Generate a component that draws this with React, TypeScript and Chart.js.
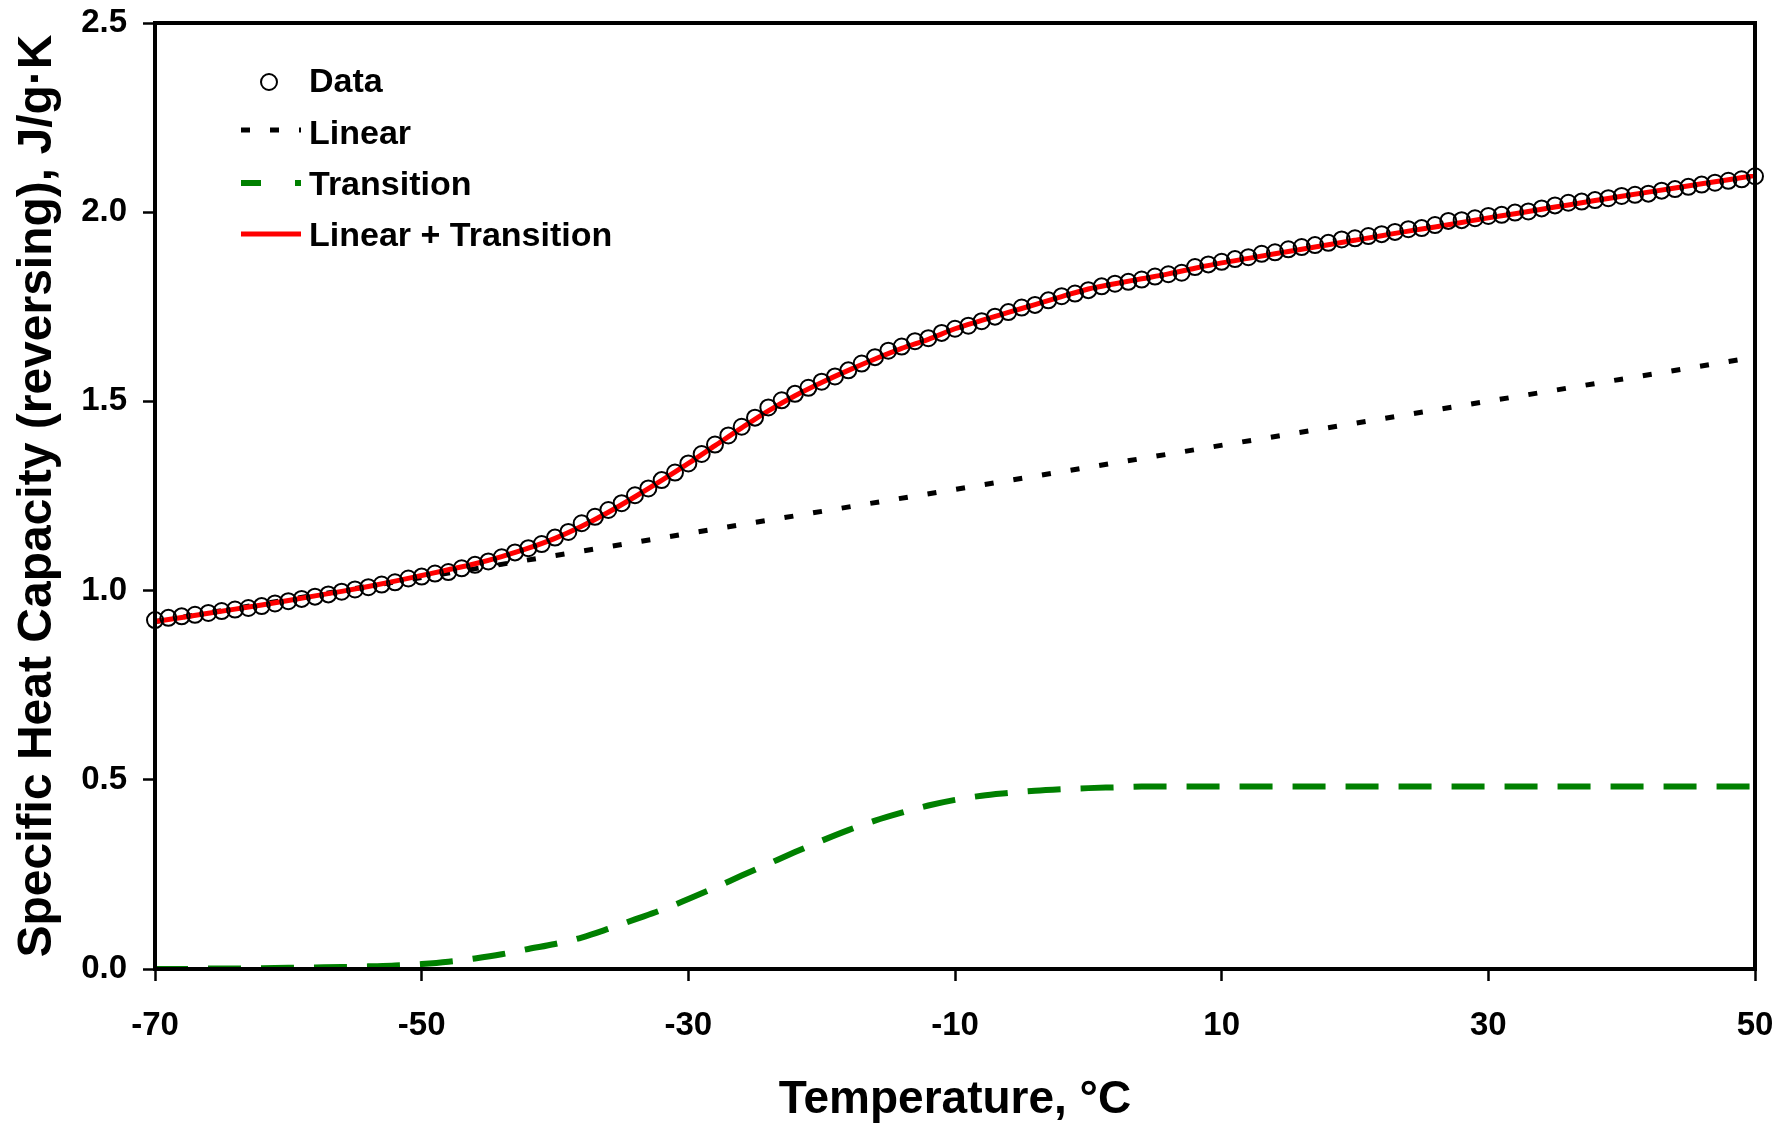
import React, { useEffect, useRef } from 'react';
import { Chart, registerables } from 'chart.js';

Chart.register(...registerables);

const FONT = '"Liberation Sans", Arial, Helvetica, sans-serif';

// ---- Data ----
const dataTemps = [
  -70, -69, -68, -67, -66, -65, -64, -63, -62, -61,
  -60, -59, -58, -57, -56, -55, -54, -53, -52, -51,
  -50, -49, -48, -47, -46, -45, -44, -43, -42, -41,
  -40, -39, -38, -37, -36, -35, -34, -33, -32, -31,
  -30, -29, -28, -27, -26, -25, -24, -23, -22, -21,
  -20, -19, -18, -17, -16, -15, -14, -13, -12, -11,
  -10, -9, -8, -7, -6, -5, -4, -3, -2, -1,
  0, 1, 2, 3, 4, 5, 6, 7, 8, 9,
  10, 11, 12, 13, 14, 15, 16, 17, 18, 19,
  20, 21, 22, 23, 24, 25, 26, 27, 28, 29,
  30, 31, 32, 33, 34, 35, 36, 37, 38, 39,
  40, 41, 42, 43, 44, 45, 46, 47, 48, 49, 50,
];
const dataCp = [
  0.922, 0.928, 0.932, 0.936, 0.941, 0.946, 0.950, 0.954, 0.959, 0.966,
  0.972, 0.978, 0.984, 0.990, 0.997, 1.003, 1.009, 1.016, 1.022, 1.032,
  1.037, 1.045, 1.049, 1.059, 1.068, 1.077, 1.088, 1.101, 1.112, 1.123,
  1.140, 1.155, 1.178, 1.195, 1.213, 1.231, 1.252, 1.270, 1.292, 1.312,
  1.336, 1.361, 1.386, 1.410, 1.433, 1.457, 1.484, 1.503, 1.520, 1.536,
  1.552, 1.566, 1.582, 1.600, 1.617, 1.634, 1.645, 1.659, 1.667, 1.681,
  1.692, 1.700, 1.712, 1.724, 1.736, 1.748, 1.755, 1.767, 1.778, 1.785,
  1.794, 1.804, 1.811, 1.816, 1.822, 1.830, 1.836, 1.840, 1.855, 1.862,
  1.869, 1.876, 1.881, 1.890, 1.894, 1.902, 1.908, 1.913, 1.919, 1.928,
  1.931, 1.937, 1.942, 1.948, 1.955, 1.958, 1.966, 1.977, 1.979, 1.984,
  1.990, 1.993, 1.999, 2.002, 2.010, 2.018, 2.025, 2.028, 2.032, 2.037,
  2.043, 2.046, 2.049, 2.057, 2.061, 2.067, 2.073, 2.078, 2.083, 2.087, 2.095,
];

const curveTemps = [
  -70, -68, -66, -64, -62, -60, -58, -56, -54, -52,
  -50, -48, -46, -44, -42, -40, -38, -36, -34, -32,
  -30, -28, -26, -24, -22, -20, -18, -16, -14, -12,
  -10, -8, -6, -4, -2, 0, 2, 4, 6, 8,
  10, 12, 14, 16, 18, 20, 22, 24, 26, 28,
  30, 32, 34, 36, 38, 40, 42, 44, 46, 48, 50,
];
const fitCp = [
  0.918, 0.929, 0.940, 0.951, 0.962, 0.974, 0.986, 0.998, 1.011, 1.025,
  1.040, 1.055, 1.071, 1.090, 1.112, 1.138, 1.170, 1.207, 1.248, 1.291,
  1.336, 1.383, 1.430, 1.475, 1.515, 1.550, 1.582, 1.612, 1.640, 1.664,
  1.692, 1.714, 1.735, 1.756, 1.777, 1.797, 1.811, 1.824, 1.837, 1.852,
  1.866, 1.878, 1.890, 1.902, 1.914, 1.926, 1.938, 1.950, 1.961, 1.973,
  1.985, 1.996, 2.008, 2.019, 2.031, 2.042, 2.053, 2.064, 2.075, 2.086, 2.097,
];
const transitionCp = [
  0.000, 0.000, 0.001, 0.001, 0.002, 0.003, 0.004, 0.005, 0.007, 0.009,
  0.013, 0.019, 0.028, 0.039, 0.053, 0.066, 0.083, 0.106, 0.131, 0.156,
  0.185, 0.215, 0.247, 0.278, 0.309, 0.339, 0.367, 0.392, 0.413, 0.432,
  0.447, 0.458, 0.465, 0.471, 0.475, 0.478, 0.480, 0.482, 0.482, 0.482,
  0.482, 0.482, 0.482, 0.482, 0.482, 0.482, 0.482, 0.482, 0.482, 0.482,
  0.482, 0.482, 0.482, 0.482, 0.482, 0.482, 0.482, 0.482, 0.482, 0.482, 0.482,
];
const linearTemps = [-70, 50];
const linearCp = [0.918, 1.617];

const xTickValues = [-70, -50, -30, -10, 10, 30, 50];
const yTickValues = [0, 0.5, 1.0, 1.5, 2.0, 2.5];

const seriesLabels = ['Data', 'Linear', 'Transition', 'Linear + Transition'];
const xTitle = 'Temperature, °C';
const yTitle = 'Specific Heat Capacity (reversing), J/g·K';

const GREEN = '#008000';
const RED = '#ff0000';

const toXY = (xs: number[], ys: number[]) => xs.map((x, i) => ({ x, y: ys[i] }));

const clearPadding = (s: any) => {
  s.paddingTop = 0;
  s.paddingBottom = 0;
  s.paddingLeft = 0;
  s.paddingRight = 0;
};

const framePlugin = {
  id: 'frame',
  afterDatasetsDraw(chart: any) {
    const { ctx, chartArea } = chart;
    ctx.save();
    ctx.strokeStyle = '#000';
    ctx.lineWidth = 4;
    ctx.strokeRect(chartArea.left, chartArea.top, chartArea.right - chartArea.left, chartArea.bottom - chartArea.top);
    ctx.restore();
  },
};

const legendPlugin = {
  id: 'insideLegend',
  afterDraw(chart: any) {
    const ctx = chart.ctx;
    const x0 = 241;
    const x1 = 301;
    const tx = 309;
    ctx.save();
    // Data marker
    ctx.strokeStyle = '#000';
    ctx.lineWidth = 2;
    ctx.beginPath();
    ctx.arc(269, 82, 8, 0, Math.PI * 2);
    ctx.stroke();
    // Linear
    ctx.lineWidth = 5;
    ctx.setLineDash([9, 20]);
    ctx.beginPath();
    ctx.moveTo(x0, 130);
    ctx.lineTo(x1, 130);
    ctx.stroke();
    // Transition
    ctx.strokeStyle = GREEN;
    ctx.lineWidth = 6;
    ctx.setLineDash([20, 34]);
    ctx.beginPath();
    ctx.moveTo(x0, 183);
    ctx.lineTo(x1, 183);
    ctx.stroke();
    // Linear + Transition
    ctx.strokeStyle = RED;
    ctx.lineWidth = 5;
    ctx.setLineDash([]);
    ctx.beginPath();
    ctx.moveTo(x0, 234);
    ctx.lineTo(x1, 234);
    ctx.stroke();
    // Labels
    ctx.fillStyle = '#000';
    ctx.font = `bold 34px ${FONT}`;
    ctx.textBaseline = 'middle';
    ctx.textAlign = 'left';
    const ys = [83, 135, 186, 237];
    seriesLabels.forEach((t, i) => ctx.fillText(t, tx, ys[i]));
    ctx.restore();
  },
};

export default function App() {
  const ref = useRef<HTMLCanvasElement>(null);

  useEffect(() => {
    document.body.style.margin = '0';
    const canvas = ref.current!;
    const chart = new Chart(canvas, {
      type: 'line',
      data: {
        datasets: [
          {
            label: seriesLabels[0],
            data: toXY(dataTemps, dataCp),
            showLine: false,
            pointRadius: 8,
            pointBorderWidth: 2,
            pointBorderColor: '#000',
            pointBackgroundColor: 'rgba(0,0,0,0)',
            pointStyle: 'circle',
            order: 0,
            clip: false,
          } as any,
          {
            label: seriesLabels[3],
            data: toXY(curveTemps, fitCp),
            borderColor: RED,
            borderWidth: 5,
            pointRadius: 0,
            cubicInterpolationMode: 'monotone',
            order: 1,
          },
          {
            label: seriesLabels[1],
            data: toXY(linearTemps, linearCp),
            borderColor: '#000',
            borderWidth: 5,
            borderDash: [9, 20],
            pointRadius: 0,
            order: 2,
          },
          {
            label: seriesLabels[2],
            data: toXY(curveTemps, transitionCp),
            borderColor: GREEN,
            borderWidth: 6,
            borderDash: [33, 20],
            pointRadius: 0,
            cubicInterpolationMode: 'monotone',
            order: 3,
          },
        ],
      },
      options: {
        responsive: false,
        animation: false,
        devicePixelRatio: 1,
        layout: { padding: { top: 23, right: 22, bottom: 0, left: 0 } },
        plugins: {
          legend: { display: false },
          tooltip: { enabled: false },
        },
        scales: {
          x: {
            type: 'linear',
            position: 'bottom',
            min: -70,
            max: 50,
            afterBuildTicks: (s: any) => {
              s.ticks = xTickValues.map((v) => ({ value: v }));
            },
            afterFit: (s: any) => {
              s.height = 155;
              clearPadding(s);
            },
            border: { display: false },
            grid: {
              display: true,
              drawOnChartArea: false,
              drawTicks: true,
              tickLength: 12,
              tickWidth: 2.5,
              tickColor: '#000',
            },
            ticks: {
              color: '#000',
              padding: 25,
              maxRotation: 0,
              autoSkip: false,
              font: { family: FONT, size: 33, weight: 'bold', lineHeight: 1.2 },
              callback: (v: any) => String(v),
            },
            title: {
              display: true,
              text: xTitle,
              color: '#000',
              padding: { top: 0, bottom: 0 },
              font: { family: FONT, size: 46, weight: 'bold', lineHeight: 1.05 },
            },
          },
          y: {
            type: 'linear',
            min: 0,
            max: 2.5,
            afterBuildTicks: (s: any) => {
              s.ticks = yTickValues.map((v) => ({ value: v }));
            },
            afterFit: (s: any) => {
              s.width = 155;
              clearPadding(s);
            },
            border: { display: false },
            grid: {
              display: true,
              drawOnChartArea: false,
              drawTicks: true,
              tickLength: 12,
              tickWidth: 2.5,
              tickColor: '#000',
            },
            ticks: {
              color: '#000',
              padding: 16,
              autoSkip: false,
              font: { family: FONT, size: 33, weight: 'bold', lineHeight: 1.2 },
              callback: (v: any) => Number(v).toFixed(1),
            },
            title: {
              display: true,
              text: yTitle,
              color: '#000',
              padding: { top: 9, bottom: 0 },
              font: { family: FONT, size: 48, weight: 'bold', lineHeight: 1.2 },
            },
          },
        },
      },
      plugins: [framePlugin, legendPlugin],
    });
    return () => chart.destroy();
  }, []);

  return (
    <div style={{ position: 'absolute', left: 0, top: 0, width: 1777, height: 1124, background: '#fff' }}>
      <canvas ref={ref} width={1777} height={1124} style={{ display: 'block' }} />
    </div>
  );
}
